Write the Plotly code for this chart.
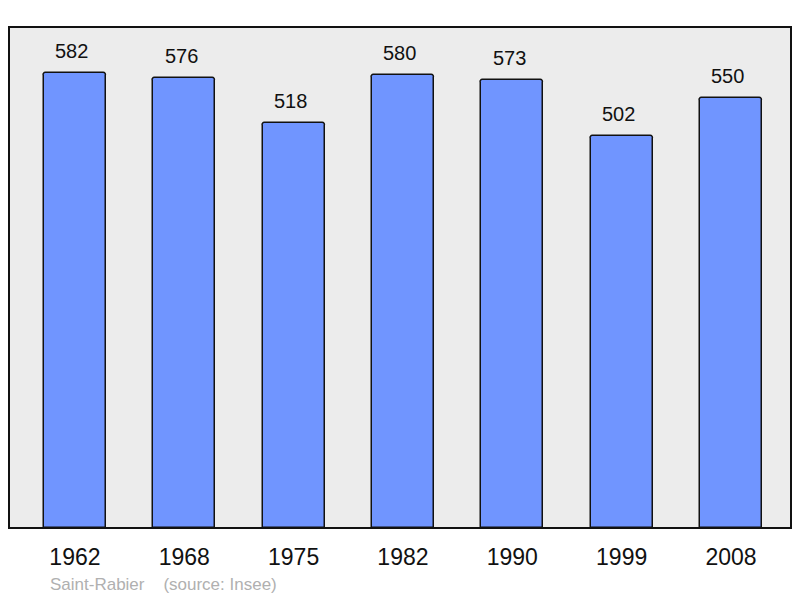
import plotly.graph_objects as go

years = ["1962", "1968", "1975", "1982", "1990", "1999", "2008"]
population = [582, 576, 518, 580, 573, 502, 550]
footer_place = "Saint-Rabier"
footer_source = "(source: Insee)"

xs = list(range(len(years)))

# page has an 8px body margin; figure is sized so the plot lands where the reference shows it
W, H = 784, 590
L, R, T, B = 1, 1, 19, 70
plot_h = H - T - B

fig = go.Figure()
fig.add_trace(go.Bar(
    x=xs, y=population, width=0.567,
    marker=dict(color="#7095ff", line=dict(color="#111111", width=1.5), cornerradius=3),
    hoverinfo="skip",
))

for x, v in zip(xs, population):
    fig.add_annotation(x=x, y=v, text=str(v), showarrow=False, yanchor="bottom",
                       yshift=9, xshift=-3,
                       font=dict(family="Liberation Sans, Arial", size=20, color="#111111"))

fig.add_annotation(xref="paper", yref="paper", x=(48 - 9) / 782, y=-(584 - 528) / plot_h,
                   xanchor="left", yanchor="middle", showarrow=False,
                   text=footer_place + "&nbsp;&nbsp;&nbsp;&nbsp;" + footer_source,
                   font=dict(family="Liberation Sans, Arial", size=17, color="#b0b0b0"))

fig.add_shape(type="rect", xref="paper", yref="paper", x0=0, x1=1, y0=0, y1=1,
              line=dict(color="#111111", width=2), layer="above")

fig.update_layout(
    width=W, height=H,
    margin=dict(l=L, r=R, t=T, b=B),
    paper_bgcolor="white", plot_bgcolor="#ececec",
    showlegend=False, bargap=0,
    xaxis=dict(range=[-0.603, 6.549], tickmode="array", tickvals=xs, ticktext=years,
               showgrid=False, zeroline=False, ticks="outside", ticklen=8, tickcolor="rgba(0,0,0,0)",
               tickfont=dict(family="Liberation Sans, Arial", size=23, color="#111111"), fixedrange=True),
    yaxis=dict(range=[0, 640.8], showgrid=False, zeroline=False, showticklabels=False, fixedrange=True),
)

fig.write_html("out.html")
